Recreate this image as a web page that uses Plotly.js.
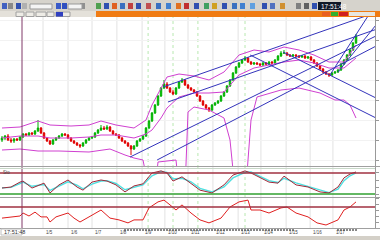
<!DOCTYPE html>
<html><head><meta charset="utf-8">
<script src="https://cdn.plot.ly/plotly-3.0.1.min.js"></script>
<style>html,body{margin:0;padding:0;background:#fff}#c{width:380px;height:240px}</style>
</head><body><div id="c"></div>
<script>
// ---- data ----
const opens=[60,62,64,60,59,61,60,63,66,65,67,66,69,72,67,62,59,56,60,62,64,66,65,62,59,57,55,54,57,60,62,63,67,70,72,71,73,69,66,65,62,59,57,54,51,54,59,61,64,72,79,87,95,104,112,116,112,108,106,112,118,120,115,112,110,108,104,99,95,92,90,95,97,99,104,108,114,120,127,133,137,140,142,138,136,137,136,135,137,136,138,137,140,144,147,147,145,144,145,144,143,144,142,143,140,137,134,131,128,126,125,127,128,130,136,140,145,150,157];
const closes=[62,64,60,59,61,60,63,66,65,67,66,69,72,67,62,59,56,60,62,64,66,65,62,59,57,55,54,57,60,62,63,67,70,72,71,73,69,66,65,62,59,57,54,51,54,59,61,64,72,79,87,95,104,112,116,112,108,106,112,118,120,115,112,110,108,104,99,95,92,90,95,97,99,104,108,114,120,127,133,137,140,142,138,136,137,136,135,137,136,138,137,140,144,147,147,145,144,145,144,143,144,142,143,140,137,134,131,128,126,125,127,128,130,136,140,145,150,157,164];
const highs=[64,65,66,62,62,62,64,67,67,68,68,70,80,73,68,63,60,61,63,65,67,67,66,63,60,58,56,58,61,63,64,68,71,75,74,75,74,70,67,66,63,60,58,55,55,60,62,65,73,80,88,96,105,113,120,118,113,110,113,119,122,121,116,113,111,109,105,100,96,93,96,98,100,105,109,115,121,128,134,138,141,144,143,139,138,138,137,138,138,139,139,141,145,149,150,148,146,146,146,145,145,145,144,144,141,138,135,132,129,127,128,129,131,137,141,146,151,158,166];
const lows=[58,60,59,57,57,59,59,62,64,64,65,65,68,66,61,58,55,55,59,61,63,64,61,58,56,54,52,53,56,59,61,62,66,69,70,70,68,65,64,61,58,56,53,45,50,53,58,60,63,71,78,86,94,103,111,111,107,105,105,111,117,114,111,109,107,103,98,94,91,88,89,94,96,98,103,107,113,119,126,132,136,139,137,135,135,135,134,134,135,135,136,136,139,143,146,144,143,143,143,142,142,141,141,139,136,133,130,127,125,123,124,126,127,129,135,139,144,149,156];

const bbX=[0,6,12,16,23,29,33,38,44,48,50,53,55,59,64,69,74,79,84,89,94,99,104,109,114,118];
const bbUpper=[72,73,79,75,74,75,79,75,72,80,95,112,123,126,124,120,128,145,150,148,153,150,145,138,138,155];
const bbMiddle=[62,64,64,62,62,63,65,65,62,66,70,82,92,103,107,107,108,125,132,135,138,140,137,132,132,142];
const bbLowX=[0,6,12,19,29,36,41,44,47,49,51,52,58,59,61,62,64,69,74,76,78,81,83,85,93,99,106,111,114,116,118];
const bbLower=[50,51,49,49,48,51,45,42,40,10,10,38,40,10,10,88,93,90,82,60,0,0,80,103,110,112,107,100,100,95,82];

const stX=[0,3,6,7,10,14,16,19,22,25,27,30,33,35,38,41,44,47,50,53,55,57,60,63,66,70,74,77,81,83,86,89,92,94,98,102,106,109,112,114,116,118];
const stK=[37,40,54,57,37,51,23,46,60,40,31,54,60,57,46,26,43,49,80,86,80,57,69,51,31,23,46,74,86,80,66,54,51,71,46,40,26,23,40,66,77,83];
const stD=[38,39,50,54,42,47,30,42,55,45,35,48,57,58,50,32,38,46,72,84,82,63,65,55,36,26,40,66,82,83,70,58,53,65,52,42,30,24,34,58,72,80];

const lwX=[0,3,6,7,9,11,13,15,16,18,22,24,26,29,33,36,39,42,44,47,49,52,54,56,58,60,63,66,69,73,76,79,82,83,86,89,93,95,98,102,105,108,112,114,116,118];
const lwV=[33,37,40,50,40,53,37,37,20,37,50,33,20,37,60,33,27,17,27,27,67,87,93,77,60,77,50,27,17,33,70,87,93,60,60,50,67,70,50,37,17,10,27,60,70,87];

const trends=[
 {x:[53.7,126],y:[113,189]},
 {x:[55.3,126],y:[98,172]},
 {x:[42.7,126],y:[43,166]},
 {x:[51.7,126],y:[40,156]},
 {x:[82.7,126],y:[145,80]},
 {x:[93.7,126],y:[148,100]},
 {x:[109.3,123.3],y:[125,190]},
 {x:[112,126],y:[128,180]}
];
const tickIdx=[13.67,22,30,38.3,46.7,54.3,62,70.3,78.7,86.3,94.7,102.7,110.3];
const tickText=["1/5","1/6","1/7","1/8","1/9","1/10","1/11","1/12","1/13","1/14","1/15","1/16","1/17"];

// ---- helpers ----
const W=380,H=240;
const px=v=>v/W, py=v=>1-v/H;
const XD=375/380;

const traces=[];
traces.push({type:'candlestick',x:opens.map((_,i)=>i),open:opens,high:highs,low:lows,close:closes,
  increasing:{line:{color:'#00b000',width:1},fillcolor:'#00d000'},
  decreasing:{line:{color:'#e00000',width:1},fillcolor:'#e00000'},
  whiskerwidth:0,xaxis:'x',yaxis:'y',hoverinfo:'none'});
const mag='#d040d0';
[[bbX,bbUpper],[bbX,bbMiddle],[bbLowX,bbLower]].forEach(([xx,yy])=>traces.push({type:'scatter',mode:'lines',x:xx,y:yy,line:{color:mag,width:1},xaxis:'x',yaxis:'y',hoverinfo:'none'}));
trends.forEach(t=>traces.push({type:'scatter',mode:'lines',x:t.x,y:t.y,line:{color:'#3333bb',width:1},xaxis:'x',yaxis:'y',hoverinfo:'none'}));
traces.push({type:'scatter',mode:'lines',x:stX,y:stD,line:{color:'#50e0e0',width:1.4},xaxis:'x2',yaxis:'y2',hoverinfo:'none'});
traces.push({type:'scatter',mode:'lines',x:stX,y:stK,line:{color:'#a02838',width:1},xaxis:'x2',yaxis:'y2',hoverinfo:'none'});
traces.push({type:'scatter',mode:'lines',x:lwX,y:lwV,line:{color:'#e02020',width:1},xaxis:'x3',yaxis:'y3',hoverinfo:'none'});

const shapes=[];
tickIdx.forEach(t=>shapes.push({type:'line',xref:'x',yref:'paper',x0:t,x1:t,y0:py(228),y1:py(17),line:{color:'#e2e2e2',width:1},layer:'below'}));
[48.7,57,65.3,81].forEach(t=>shapes.push({type:'line',xref:'x',yref:'paper',x0:t,x1:t,y0:py(228),y1:py(17),line:{color:'#b8e8b0',width:1,dash:'dot'},layer:'below'}));
shapes.push({type:'line',xref:'x',yref:'paper',x0:6.67,x1:6.67,y0:py(228),y1:py(17),line:{color:'#803868',width:1}});
[166.5,197.5,228.5].forEach(v=>shapes.push({type:'line',xref:'paper',yref:'paper',x0:0,x1:1,y0:py(v),y1:py(v),line:{color:'#a0a0a0',width:1}}));
shapes.push({type:'line',xref:'paper',yref:'paper',x0:0,x1:XD,y0:py(168.5),y1:py(168.5),line:{color:'#c8d8c8',width:1}});
shapes.push({type:'line',xref:'paper',yref:'y2',x0:0,x1:XD,y0:80,y1:80,line:{color:'#a03040',width:1.3}});
shapes.push({type:'line',xref:'paper',yref:'y2',x0:0,x1:XD,y0:20,y1:20,line:{color:'#30a030',width:1.3}});
shapes.push({type:'line',xref:'paper',yref:'y3',x0:0,x1:XD,y0:70,y1:70,line:{color:'#a03040',width:1.3}});
const rect=(x0,y0,x1,y1,c,lc)=>shapes.push({type:'rect',xref:'paper',yref:'paper',x0:px(x0),x1:px(x1),y0:py(y1),y1:py(y0),fillcolor:c,line:{width:lc?1:0,color:lc||c}});
rect(0,0,380,11,'#d6d3cc');
rect(0,11,96,17,'#e4e1da');
rect(96,11,380,17,'#f07c14');
[[2,'#4060c0'],[8,'#888'],[16,'#3050b0'],[22,'#b0b0b0'],[56,'#3a5ac8'],[62,'#3050c0'],[80,'#909090'],[96,'#50a050'],[104,'#3050b0'],[112,'#e06020'],[120,'#3a70c0'],[128,'#c04040'],[136,'#3050b0'],[146,'#c05050'],[156,'#3a70c0'],[166,'#4080d0'],[176,'#e07020'],[184,'#c03030'],[194,'#3050b0'],[204,'#40a060'],[212,'#d0a020'],[222,'#3050b0'],[232,'#3a70c0'],[240,'#4080d0'],[250,'#60a0e0'],[262,'#3050b0'],[270,'#5070c0'],[280,'#d09030'],[296,'#808080'],[304,'#606060'],[312,'#3050b0']].forEach(([x,c])=>rect(x,3,x+5,9,c));
rect(30,4,52,9,'#f4f4f4','#999');
rect(68,4,82,9,'#f4f4f4','#999');
rect(318,2,341,10,'#101828');
rect(322,12,330,16,'#e86020');
rect(331,12,338,16,'#30b030');
rect(339,12,348,16,'#d02020');
rect(349,12,375,16,'#e8e6e0');
[[16,24],[26,34],[36,46],[47,54],[56,70]].forEach(([a,b])=>rect(a,12,b,16.5,'#eeece6','#a0a0a0'));
rect(56,12,63,16.5,'#3040c0');
rect(0,236,380,240,'#d4d0c8');
rect(1,229,22,235,'#ffffff','#c0c0c0');

const ann=[];
const txt=(x,y,t,c,s,anchor)=>ann.push({xref:'paper',yref:'paper',x:px(x),y:py(y),text:t,showarrow:false,font:{family:'Liberation Sans, Arial',size:s||5,color:c||'#333'},xanchor:anchor||'left',yanchor:'middle'});
txt(319,6,'17:51:48','#ffffff',6.5);
txt(2,232,'17:51:48','#333',5.5);
txt(1,172,'Sto','#444',4.5);
tickIdx.forEach((t,i)=>ann.push({xref:'x3',yref:'paper',x:t,y:py(232),text:tickText[i],showarrow:false,xanchor:'left',yanchor:'middle',xshift:1,font:{family:'Liberation Sans, Arial',size:4.5,color:'#444'}}));
for(let i=41;i<=97;i++) shapes.push({type:'line',xref:'x3',yref:'paper',x0:i,x1:i,y0:py(229),y1:py(231),line:{color:'#111',width:1}});
for(let i=112;i<=118;i++) shapes.push({type:'line',xref:'x3',yref:'paper',x0:i,x1:i,y0:py(229),y1:py(231),line:{color:'#111',width:1}});

const xr=[-0.667,124.33];
const layout={width:W,height:H,margin:{l:0,r:0,t:0,b:0},paper_bgcolor:'#fff',plot_bgcolor:'#fff',showlegend:false,
 xaxis:{domain:[0,XD],range:xr,anchor:'y',showticklabels:false,showgrid:false,zeroline:false,rangeslider:{visible:false},fixedrange:true},
 yaxis:{domain:[py(166),py(17)],range:[34,183],side:'right',showticklabels:false,ticks:'outside',ticklen:3,tickcolor:'#999',dtick:20,showline:true,linecolor:'#999',showgrid:true,gridcolor:'#f2f2f2',zeroline:false,fixedrange:true},
 xaxis2:{domain:[0,XD],range:xr,anchor:'y2',showticklabels:false,showgrid:false,zeroline:false,fixedrange:true},
 yaxis2:{domain:[py(198),py(167)],range:[8.6,97.1],side:'right',showticklabels:false,ticks:'outside',ticklen:3,tickcolor:'#999',dtick:20,showline:true,linecolor:'#999',showgrid:false,zeroline:false,fixedrange:true},
 xaxis3:{domain:[0,XD],range:xr,anchor:'y3',showticklabels:false,showgrid:false,zeroline:false,fixedrange:true},
 yaxis3:{domain:[py(228),py(198)],range:[0,100],side:'right',showticklabels:false,ticks:'outside',ticklen:3,tickcolor:'#999',dtick:20,showline:true,linecolor:'#999',showgrid:false,zeroline:false,fixedrange:true},
 shapes:shapes,annotations:ann};
Plotly.newPlot('c',traces,layout,{staticPlot:true,displayModeBar:false});
</script></body></html>
